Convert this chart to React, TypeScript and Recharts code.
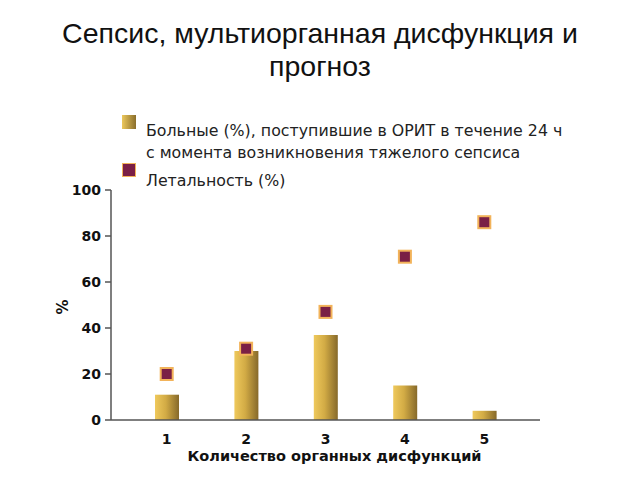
import React from "react";
import { ComposedChart, Bar, Scatter, XAxis, YAxis } from "recharts";

const categories = ["1", "2", "3", "4", "5"];
const patientsPct = [11, 30, 37, 15, 4];
const mortalityPct = [20, 31, 47, 71, 86];
const yTicks = [0, 20, 40, 60, 80, 100];

const data = categories.map((c, i) => ({
  cat: c,
  patients: patientsPct[i],
  mortality: mortalityPct[i],
}));

const SquareMarker = (props: any) => {
  const { cx, cy } = props;
  if (cx == null || cy == null) return null;
  return (
    <rect x={cx - 6} y={cy - 6} width={12} height={12} fill="#7a1f45" stroke="#f2b35a" strokeWidth={2} />
  );
};

const font = "'DejaVu Sans', Verdana, sans-serif";

const PercentLabel = () => (
  <text x={63} y={307} transform="rotate(-90 63 307)" textAnchor="middle" dominantBaseline="central" fill="#111" fontSize={15} fontWeight="bold" fontFamily={font}>
    %
  </text>
);

export default function App() {
  return (
    <div style={{ position: "absolute", left: 0, top: 0, width: 640, height: 480, background: "#fff", fontFamily: "'Liberation Sans', Arial, sans-serif" }}>
      <div style={{ position: "absolute", left: 0, top: 17, width: 640, textAlign: "center", fontSize: 28.5, lineHeight: "33px", color: "#111", fontFamily: "'Liberation Sans', Arial, sans-serif" }}>
        Сепсис, мультиорганная дисфункция и<br />прогноз
      </div>
      <div style={{ position: "absolute", left: 122, top: 115, width: 14, height: 14, background: "linear-gradient(to right, #ecc85c, #8a6e2c)" }} />
      <div style={{ position: "absolute", left: 122, top: 163, width: 12, height: 12, background: "#7a1f45", border: "1px solid #f2b35a" }} />
      <div style={{ position: "absolute", left: 146, top: 120, fontSize: 15.8, lineHeight: "22px", color: "#222", fontFamily: font, whiteSpace: "nowrap" }}>
        Больные (%), поступившие в ОРИТ в течение 24 ч<br />с момента возникновения тяжелого сепсиса
      </div>
      <div style={{ position: "absolute", left: 146, top: 170, fontSize: 15.8, lineHeight: "22px", color: "#222", fontFamily: font, whiteSpace: "nowrap" }}>
        Летальность (%)
      </div>
      <ComposedChart width={640} height={480} data={data} margin={{ top: 190, right: 100, bottom: 0, left: 0 }} barCategoryGap={0}>
        <defs>
          <linearGradient id="barGrad" x1="0" y1="0" x2="1" y2="0">
            <stop offset="0%" stopColor="#efc95c" />
            <stop offset="45%" stopColor="#d2ab45" />
            <stop offset="100%" stopColor="#86692a" />
          </linearGradient>
        </defs>
        <XAxis
          dataKey="cat"
          padding={{ left: 16, right: 16 }}
          height={60}
          tickLine={false}
          axisLine={{ stroke: "#555", strokeWidth: 1.5 }}
          tick={{ fill: "#111", fontSize: 14, fontWeight: "bold", fontFamily: font }}
          tickMargin={8}
          label={{ value: "Количество органных дисфункций", position: "insideBottom", offset: 19, dx: 9, fill: "#111", fontSize: 14.5, fontWeight: "bold", fontFamily: font }}
        />
        <YAxis
          width={111}
          domain={[0, 100]}
          ticks={yTicks}
          tickSize={6}
          tickLine={{ stroke: "#555", strokeWidth: 1.5 }}
          axisLine={{ stroke: "#555", strokeWidth: 1.5 }}
          tick={{ fill: "#111", fontSize: 14, fontWeight: "bold", fontFamily: font }}
          tickMargin={4}
          label={{ content: () => <PercentLabel /> }}
        />
        <Bar dataKey="patients" fill="url(#barGrad)" barSize={24} isAnimationActive={false} />
        <Scatter dataKey="mortality" shape={<SquareMarker />} isAnimationActive={false} />
      </ComposedChart>
    </div>
  );
}
